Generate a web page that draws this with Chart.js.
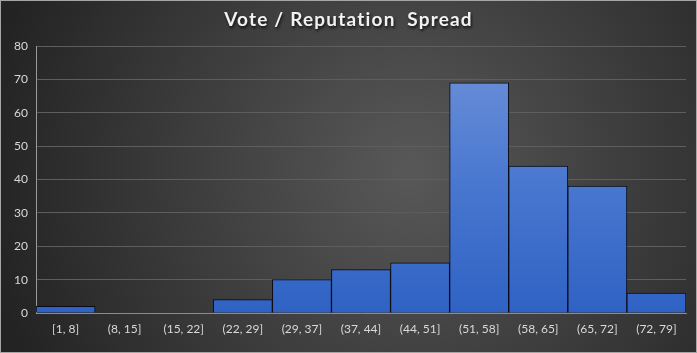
<!DOCTYPE html>
<html>
<head>
<meta charset="utf-8">
<script src="https://cdn.jsdelivr.net/npm/chart.js@4.4.1/dist/chart.umd.min.js"></script>
<style>
  html, body { margin: 0; padding: 0; background: #2a2a2a; }
  #wrap { width: 697px; height: 353px; position: relative; }
</style>
</head>
<body>
<div id="wrap"><canvas id="chart"></canvas></div>
<script>
const chartTitle = "Vote / Reputation Spread";
const bins = ["[1, 8]", "(8, 15]", "(15, 22]", "(22, 29]", "(29, 37]", "(37, 44]", "(44, 51]", "(51, 58]", "(58, 65]", "(65, 72]", "(72, 79]"];
const counts = [2, 0, 0, 4, 10, 13, 15, 69, 44, 38, 6];
const yTicks = [0, 10, 20, 30, 40, 50, 60, 70, 80];

// dark radial background + thin frame + shadowed title
const backdrop = {
    id: "backdrop",
    beforeDraw(chart) {
        const ctx = chart.ctx;
        const w = chart.width, h = chart.height;
        ctx.save();
        let g = ctx.createRadialGradient(410, 170, 10, 410, 170, 430);
        g.addColorStop(0, "#575757");
        g.addColorStop(1, "#232323");
        ctx.fillStyle = g;
        ctx.fillRect(0, 0, w, h);
        ctx.strokeStyle = "#a6a6a6";
        ctx.lineWidth = 1;
        ctx.strokeRect(0.5, 0.5, w - 1, h - 1);

        ctx.font = "bold 19px Lato";
        ctx.letterSpacing = "1.2px";
        ctx.textAlign = "center";
        ctx.textBaseline = "middle";
        ctx.shadowColor = "rgba(0,0,0,0.8)";
        ctx.shadowOffsetX = 1;
        ctx.shadowOffsetY = 2;
        ctx.shadowBlur = 3;
        ctx.fillStyle = "#f2f2f2";
        ctx.fillText(chartTitle.replace("Reputation Spread", "Reputation  Spread"), w / 2, 20);
        ctx.restore();
    }
};

function barFill(context) {
    const area = context.chart.chartArea;
    if (!area) return "#3f6fcc";
    const g = context.chart.ctx.createLinearGradient(0, area.top, 0, area.bottom);
    g.addColorStop(0, "#6f92d9");
    g.addColorStop(0.5, "#4a78d0");
    g.addColorStop(1, "#2f62c4");
    return g;
}

new Chart(document.getElementById("chart"), {
    type: "bar",
    data: {
        labels: bins,
        datasets: [{
            data: counts,
            backgroundColor: barFill,
            borderColor: "#0a0a14",
            borderWidth: 1,
            barPercentage: 1,
            categoryPercentage: 1
        }]
    },
    options: {
        responsive: true,
        maintainAspectRatio: false,
        animation: false,
        layout: { padding: { top: 46, right: 11, left: 0, bottom: 0 } },
        plugins: {
            legend: { display: false },
            tooltip: { enabled: false }
        },
        scales: {
            x: {
                grid: { display: false, drawTicks: false },
                border: { color: "#8c8c8c", width: 1 },
                ticks: {
                    color: "#d9d9d9",
                    font: { family: "Lato", size: 12 },
                    maxRotation: 0,
                    padding: 9
                },
                afterFit(scale) { scale.height = 40; }
            },
            y: {
                min: 0,
                max: 80,
                afterBuildTicks(scale) { scale.ticks = yTicks.map(v => ({ value: v })); },
                grid: { color: "#5e5e5e", drawTicks: false, lineWidth: 1 },
                border: { color: "#9a9a9a", width: 1 },
                ticks: {
                    color: "#d9d9d9",
                    font: { family: "Lato", size: 12 },
                    padding: 8
                },
                afterFit(scale) { scale.width = 36; }
            }
        }
    },
    plugins: [backdrop]
});
</script>
</body>
</html>
